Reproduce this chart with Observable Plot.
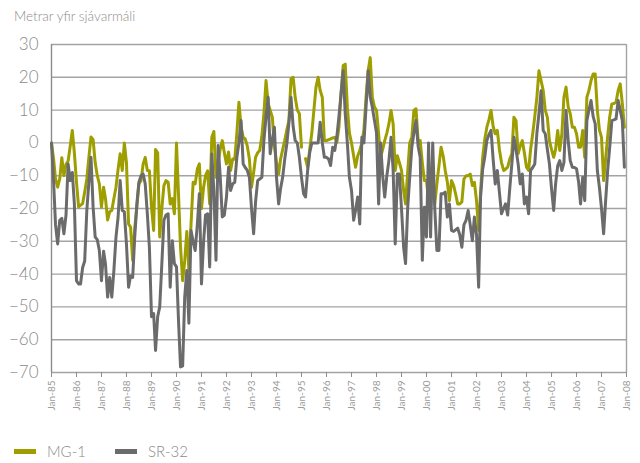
<!DOCTYPE html>
<html>
<head>
<meta charset="utf-8">
<script src="https://cdn.jsdelivr.net/npm/d3@7"></script>
<script src="https://cdn.jsdelivr.net/npm/@observablehq/plot@0.6"></script>
<style>
  body { margin: 0; background: #fff; width: 640px; height: 463px; position: relative; overflow: hidden; font-family: Lato, "Open Sans", sans-serif; }
  #title { position: absolute; left: 14px; top: 8px; font-size: 13.5px; color: #8c8c8c; font-weight: 300; }
  #chart { position: absolute; left: 0; top: 24px; }
  #legend { position: absolute; left: 14px; top: 442px; display: flex; align-items: center; font-size: 15px; color: #8a8a8a; font-weight: 300; }
  .sw { display: inline-block; width: 22px; height: 5px; margin-right: 11px; }
  .item { display: flex; align-items: center; margin-right: 29px; }
</style>
</head>
<body>
<div id="title">Metrar yfir sjávarmáli</div>
<div id="chart"></div>
<div id="legend"></div>
<script>
// Monthly values, Jan 1985 – Dec 2007 (one row per year)
const startYear = 1985;
const seriesNames = ["MG-1", "SR-32"];
const seriesColors = ["#9e9e00", "#6b6b6b"];
const mg1 = [
  0, -5, -11, -13.5, -11, -4.5, -10, -6.5, -5.5, -1, 3.8, -3,
  -12, -19.5, -19, -18.5, -15, -11, -4.4, 1.8, 1, -6, -10, -12.5,
  -19.6, -13.5, -17, -23.5, -21, -20.6, -17, -13.5, -8, -3.3, -8.4, 0,
  -6, -24.7, -25.7, -35.8, -26, -19.6, -12.5, -11.5, -6.4, -4.4, -8.4, -8.5,
  -19.6, -26.7, -2, -3, -28.7, -20, -13, -11.5, -12, -18.6, -17, -21.6,
  0, -16.5, -31.8, -42, -36, -27, -38.9, -25, -12, -12.5, -8, -6.4,
  -20, -13.5, -10, -8.5, -18.6, 1.7, 3.5, -10.5, -6, -2, 0.7, -3,
  -6.4, -2.8, -8.4, -4.9, -5, 3, 12.4, 5, 1.7, 1.2, -1, -5,
  -13.5, -9, -4.4, -3, -2.3, 2, 8.9, 19, 12, 9.9, 7.8, -1,
  -6, -9.5, -5, -2, 0.7, 4, 6.8, 19.5, 20, 13.9, 10, 8.9,
  -1.3, null, -4.8, -7.4, -2, 3, 9.9, 17, 20, 16, 13.9, 0.7,
  0.7, 1, 1.2, 1.5, 1.7, 0.2, 4.8, 15, 23.6, 24, 10.9, 3,
  0, -4, -7.4, -4, -2.3, 0, 4, 13.9, 22, 26, 13.9, 11,
  9.9, 2.8, -4.4, -2, 0.7, 3, 5.8, 9.9, 5.8, -8.4, -3.9, -6,
  -8.4, -14.5, -18.6, -9, 0, 1.7, 9.9, 10.4, 0.7, 0.7, -6, -11.5,
  -11.5, -17.6, -10.5, -14, -18.6, -12.5, -7, -1.3, -4, -8.4, -12, -17.6,
  -11.5, -13, -15.5, -18.6, -18.6, -18, -11, -10, -10, -9.5, -13, -12,
  -17.6, -26.7, -15, -4.4, 1, 4.8, 7, 9.9, 5, 2.8, 3.8, -2,
  -6, -8.4, -8, -7.4, -5, -3.3, 7.8, 6.8, -3.3, -1, 0.7, -3,
  -7.4, -8.4, -2, 2.8, 8, 13.9, 22, 19, 16, 10, 7.8, 0.7,
  -2, -4.4, -2, 3.8, -2.3, 2.8, 14, 17, 11, 8.9, 4.8, 4.8,
  2.8, -1.3, -1.3, 3.8, -4.4, 13.9, 16, 19, 21, 21, 10, 4,
  1.7, -11.5, -5, 2, 8, 11.9, 12, 12.4, 16, 18, 12, 4.8
];
const sr32 = [
  0, -12, -25, -30.8, -23.6, -23, -27.7, -22, -6.4, -11.5, -9, -18.6,
  -42, -43, -43, -38, -36, -20.6, -12, -4.4, -19.6, -28.7, -29.5, -32.8,
  -42, -33, -37, -47, -41, -47, -39, -28.7, -22.6, -11.5, -20.6, -21,
  -30.8, -44, -40.6, -41, -28.7, -18.6, -12, -10, -9.5, -12.5, -21.6, -31.8,
  -53, -52, -63.3, -53, -50, -36.8, -23.6, -22, -21.6, -44, -29.8, -36.8,
  -37.8, -55, -68.3, -68, -47, -38.9, -55, -26.7, -30, -32.8, -25, -15.5,
  -43, -30, -22, -21.6, -37.8, -3.4, -14.5, -35.8, -0.8, -10, -22.6, -22,
  -16.5, -7.4, -14.5, -12.5, -12, -4.4, 0, 6.8, -6.4, -7.5, -8.4, -10.5,
  -20, -27.7, -18, -11.5, -11, -10.5, 0.7, 8, 13.9, -3.3, 1, 4.8,
  -10.5, -18.6, -14, -10.5, -5, -0.3, 6, 13.9, 5, 0.7, 0, -4.4,
  -10.5, -15.5, -16.5, -8.4, -3, 0, 0, 0, 0, 6.3, 0, -4.4,
  -4.4, -4.9, -6.9, -1.3, -2.3, 2, 8, 15, 22, 8.9, 0, -10.5,
  -14.5, -23.6, -20.6, -16.5, -24.7, 1.7, 0, 10.9, 22, 14, 10.9, 7,
  3, -18.6, 0, -10, -16.5, -10, -5.4, 1.7, -8.4, -30.8, -9.5, -9.5,
  -20, -31.8, -36.8, -20, -10.5, -1.3, 3, 6.8, -1, -4.4, -35.8, -19.6,
  -28.7, 0, -28.7, 0, -20, -32.8, -32.8, -15.5, -15.5, -15, -22.6, -18.6,
  -26.7, -27, -26.5, -26, -28, -31.8, -25, -23.6, -20.6, -25, -29.8, -22.6,
  -28, -44, -16.5, -8, -4.4, 0.7, 2.5, 3.8, -5, -12.5, -8.4, -15,
  -21.6, -20, -18.6, -22, -14, -6.4, 1.7, -2, -6.4, -12.5, -9.5, -18.6,
  -16.5, -21.6, -8.4, -7.5, -6.4, 3, 8.9, 15.9, 3.8, 2.8, -2, -6.4,
  -14, -20.6, -12.5, -7, -5.4, -8.4, -6, 9.9, 0.7, -5.4, -7.4, -7.5,
  -7.9, -12, -18.6, -10.5, -17.6, 6.8, 10, 12.9, 8, 5.8, -8.4, -13.5,
  -20, -27.7, -18, -8.4, -1.3, 6.8, 7, 7.3, 12.9, 10, 6.8, -7.4
];
const yTicks = [-70, -60, -50, -40, -30, -20, -10, 0, 10, 20, 30];
const xTickYears = d3.range(1985, 2009);

const toRows = (vals, name) => vals.map((v, i) => ({
  date: new Date(Date.UTC(startYear, i, 1)), v, series: name
}));
const rowsMG = toRows(mg1, seriesNames[0]);
const rowsSR = toRows(sr32, seriesNames[1]);
const xTicks = xTickYears.map(y => new Date(Date.UTC(y, 0, 1)));
const fmt = d => "Jan-" + String(d.getUTCFullYear()).slice(2);

const chart = Plot.plot({
  width: 640,
  height: 400,
  marginLeft: 51,
  marginRight: 14,
  marginTop: 20,
  marginBottom: 52,
  style: { fontFamily: "Lato, 'Open Sans', sans-serif", background: "transparent" },
  x: { type: "utc", domain: [xTicks[0], xTicks[xTicks.length - 1]], label: null },
  y: { type: "linear", domain: [-70, 30], label: null },
  marks: [
    Plot.ruleY(yTicks, { stroke: "#a3a3a3", strokeWidth: 1.4 }),
    Plot.ruleX([xTicks[0]], { y1: -70, y2: 30, stroke: "#8c8c8c", strokeWidth: 1.4 }),
    Plot.ruleX([xTicks[xTicks.length - 1]], { y1: -70, y2: 30, stroke: "#a3a3a3", strokeWidth: 1.4 }),
    Plot.lineY(rowsMG, { x: "date", y: "v", stroke: seriesColors[0], strokeWidth: 3, defined: d => d.v != null }),
    Plot.lineY(rowsSR, { x: "date", y: "v", stroke: seriesColors[1], strokeWidth: 3, defined: d => d.v != null }),
    Plot.axisY({ ticks: yTicks, tickSize: 0, tickPadding: 13, fontSize: 17, fill: "#8a8a8a", fontWeight: 300, label: null }),
    Plot.axisX({ ticks: xTicks, tickFormat: fmt, tickRotate: -90, tickSize: 5, tickPadding: 3, fontSize: 10, fill: "#9a9a9a", stroke: "#8c8c8c", label: null })
  ]
});
document.getElementById("chart").appendChild(chart);

const legend = document.getElementById("legend");
seriesNames.forEach((n, i) => {
  const it = document.createElement("div");
  it.className = "item";
  const sw = document.createElement("span");
  sw.className = "sw";
  sw.style.background = seriesColors[i];
  it.appendChild(sw);
  const t = document.createElement("span");
  t.textContent = n;
  it.appendChild(t);
  legend.appendChild(it);
});
</script>
</body>
</html>
